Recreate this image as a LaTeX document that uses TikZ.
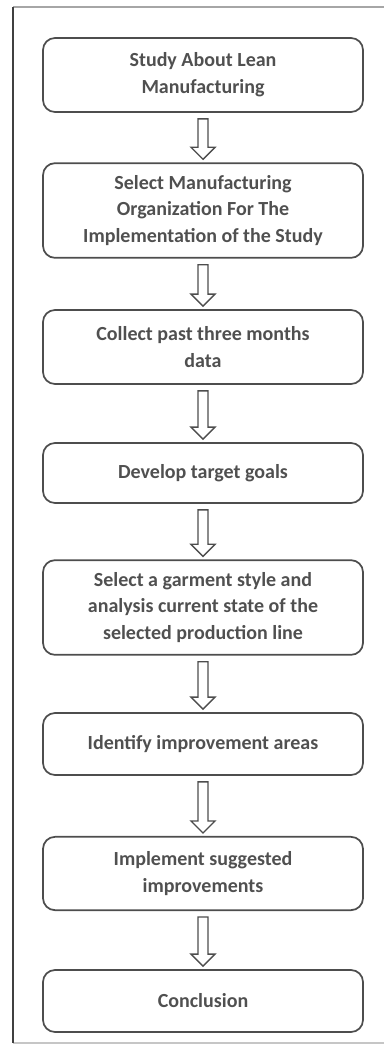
\documentclass[tikz,border=0pt]{standalone}
\usepackage{fontspec}
\setmainfont{Carlito}
\usetikzlibrary{calc}

\definecolor{linegray}{HTML}{4D4D4D}
\definecolor{textgray}{HTML}{505050}

\tikzstyle{stepbox}=[draw=linegray,line width=1.3pt,rounded corners=9pt,minimum width=240pt,align=center,font=\fontsize{15}{20}\selectfont\bfseries,text=textgray]
\tikzstyle{hollow}=[draw=linegray,line width=1pt,fill=white]

% hollow block arrow from one step down to the next
\newcommand{\flowarrow}[2]{%
   \draw[hollow] ($(#1.south)+(-5,6)$) -- ($(#1.south)+(5,6)$) --
($(#2.north)+(5,-15)$) -- ($(#2.north)+(12,-15)$) -- ($(#2.north)+(0,-3)$)
-- ($(#2.north)+(-12,-15)$) -- ($(#2.north)+(-5,-15)$) -- cycle;}

\begin{document}
\begin{tikzpicture}[x=0.75pt,y=-0.75pt]

   \useasboundingbox (0,0) rectangle (384,1047);

   % Outer frame

   \draw[gray!70,line width=1pt] (13,7) -- (400,7);
   \draw[gray!45,line width=1pt] (13,1043) -- (400,1043);
   \draw[black!75,line width=1.3pt] (13,7) -- (13,1043);

   % Steps

   \node[stepbox,minimum height=55.5pt] (study) at (203,75) {Study About Lean\\Manufacturing};
   \node[stepbox,minimum height=71pt] (select) at (203,210.5) {Select Manufacturing\\Organization For The\\Implementation of the Study};
   \node[stepbox,minimum height=55.5pt] (collect) at (203,347) {Collect past three months\\data};
   \node[stepbox,minimum height=45pt] (goals) at (203,473) {Develop target goals};
   \node[stepbox,minimum height=71pt] (garment) at (203,607.5) {Select a garment style and\\analysis current state of the\\selected production line};
   \node[stepbox,minimum height=46.5pt] (areas) at (203,744) {Identify improvement areas};
   \node[stepbox,minimum height=55pt] (implement) at (203,873.5) {Implement suggested\\improvements};
   \node[stepbox,minimum height=46.5pt] (conclusion) at (203,1001) {Conclusion};

   % Arrows

   \flowarrow{study}{select}
   \flowarrow{select}{collect}
   \flowarrow{collect}{goals}
   \flowarrow{goals}{garment}
   \flowarrow{garment}{areas}
   \flowarrow{areas}{implement}
   \flowarrow{implement}{conclusion}

\end{tikzpicture}
\end{document}
